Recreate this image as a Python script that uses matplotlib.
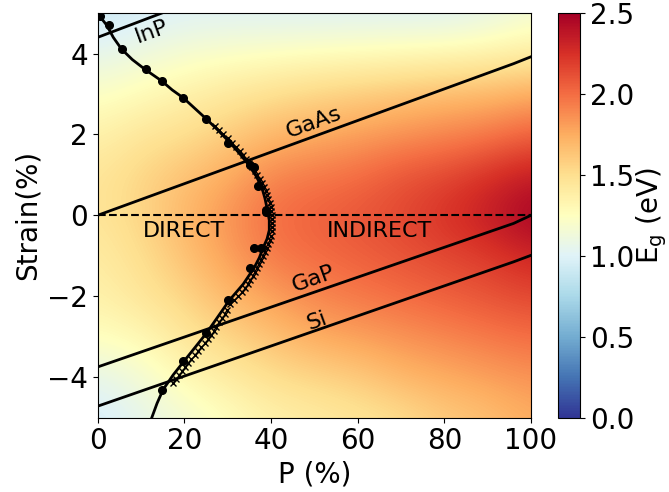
import numpy as np
import matplotlib
matplotlib.use("Agg")
import matplotlib.pyplot as plt

# Band gap map Eg(P, strain), sampled every 10 % P and 1 % strain
p_grid = [0, 10, 20, 30, 40, 50, 60, 70, 80, 90, 100]
strain_grid = [-5, -4, -3, -2, -1, 0, 1, 2, 3, 4, 5]
eg_grid = [
    [0.95, 1.05, 1.15, 1.25, 1.35, 1.40, 1.45, 1.50, 1.60, 1.65, 1.75],  # -5
    [1.05, 1.15, 1.30, 1.40, 1.50, 1.55, 1.60, 1.70, 1.75, 1.80, 1.85],  # -4
    [1.25, 1.30, 1.45, 1.55, 1.65, 1.75, 1.80, 1.85, 1.90, 1.95, 2.00],  # -3
    [1.35, 1.45, 1.55, 1.70, 1.80, 1.90, 1.95, 2.00, 2.05, 2.10, 2.15],  # -2
    [1.40, 1.50, 1.65, 1.80, 1.95, 2.00, 2.05, 2.10, 2.15, 2.20, 2.30],  # -1
    [1.45, 1.55, 1.70, 1.85, 2.00, 2.05, 2.10, 2.15, 2.25, 2.35, 2.50],  # 0
    [1.45, 1.55, 1.65, 1.75, 1.90, 1.95, 2.00, 2.10, 2.15, 2.25, 2.35],  # 1
    [1.35, 1.45, 1.50, 1.60, 1.70, 1.75, 1.80, 1.85, 1.90, 1.95, 2.05],  # 2
    [1.22, 1.28, 1.36, 1.43, 1.50, 1.56, 1.60, 1.64, 1.68, 1.70, 1.76],  # 3
    [1.05, 1.12, 1.18, 1.22, 1.24, 1.26, 1.28, 1.30, 1.32, 1.35, 1.40],  # 4
    [0.90, 0.95, 1.00, 1.00, 1.00, 1.00, 1.00, 1.00, 1.00, 1.05, 1.15],  # 5
]

# direct/indirect boundary (fitted curve)
boundary_strain = [4.99, 4.85, 4.70, 4.40, 4.11, 3.85, 3.61, 3.32, 3.10, 2.90, 2.39,
                   2.10, 1.80, 1.52, 1.24, 0.98, 0.72, 0.42, 0.12, -0.12, -0.37,
                   -0.58, -0.80, -1.05, -1.30, -1.70, -2.10, -2.50, -2.90, -3.25,
                   -3.61, -3.95, -4.31, -4.65, -5.0]
boundary_p = [0.15, 1.0, 2.1, 3.6, 5.5, 8.0, 10.9, 14.8, 17.2, 19.8, 25.0,
              27.8, 30.5, 32.8, 34.9, 36.5, 37.8, 38.6, 39.2, 39.6, 39.6,
              39.1, 38.2, 37.3, 36.1, 33.6, 30.4, 27.8, 25.2, 22.6,
              19.9, 17.4, 15.1, 13.7, 12.5]

# computed transition points
dots_p = [0.5, 2.6, 5.5, 11.1, 14.8, 19.8, 24.9, 30.0, 35.1, 36.1, 37.1, 38.8,
          38.8, 36.1, 37.8, 35.1, 30.1, 25.0, 19.8, 14.8]
dots_strain = [4.93, 4.70, 4.11, 3.61, 3.32, 2.90, 2.39, 1.80, 1.24, 1.20, 0.72, 0.12,
               0.08, -0.80, -0.80, -1.30, -2.10, -2.90, -3.61, -4.31]

# finer sampled points near the boundary
cross_strain = [2.2, 2.1, 2.0, 1.9, 1.8, 1.7, 1.6, 1.5, 1.4, 1.3, 1.2, 1.1, 1.0, 0.9,
                0.8, 0.7, 0.6, 0.5, 0.4, 0.3, 0.2, 0.1, 0.0, -0.1, -0.2, -0.3, -0.4,
                -0.5, -0.6, -0.7, -0.8, -0.9, -1.0, -1.1, -1.2, -1.3, -1.4, -1.5,
                -1.6, -1.7, -1.8, -1.9, -2.0, -2.1, -2.2, -2.35, -2.45, -2.55, -2.65,
                -2.75, -2.85, -2.95, -3.05, -3.15, -3.25, -3.35, -3.45, -3.55, -3.65,
                -3.75, -3.85, -3.95, -4.05, -4.15]
cross_p = [27.0, 28.0, 29.0, 30.0, 31.0, 31.9, 32.8, 33.5, 34.2, 34.9, 35.6, 36.2,
           36.7, 37.4, 38.0, 38.4, 38.8, 39.1, 39.4, 39.7, 39.9, 40.1, 40.2, 40.3,
           40.3, 40.3, 40.2, 40.0, 39.8, 39.4, 39.0, 38.6, 38.2, 37.8, 37.3, 36.8,
           36.3, 35.8, 35.2, 34.6, 33.9, 33.2, 32.4, 31.5, 30.6, 29.9, 29.3, 28.6,
           28.0, 27.4, 26.8, 26.1, 25.4, 24.7, 23.9, 23.1, 22.4, 21.6, 20.9,
           20.1, 19.4, 18.7, 18.0, 17.4]

# lattice matched lines for each substrate
inp_p, inp_strain = [0, 14.8], [4.40, 5.0]
gaas_p, gaas_strain = [0, 96, 100], [0.0, 3.75, 3.92]
gap_p, gap_strain = [0, 96, 100], [-3.75, -0.20, 0.0]
si_p, si_strain = [0, 96, 100], [-4.72, -1.15, -0.99]

plt.rcParams['font.size'] = 20

fig = plt.figure(figsize=(6.69, 4.92), dpi=100)
ax = fig.add_axes([0.146, 0.1514, 0.6477, 0.822])
cax = fig.add_axes([0.834, 0.1514, 0.033, 0.822])

im = ax.imshow(np.array(eg_grid), origin='lower', aspect='auto', cmap='RdYlBu_r',
               vmin=0, vmax=2.5, interpolation='bicubic',
               extent=[p_grid[0] - 5, p_grid[-1] + 5, strain_grid[0] - 0.5, strain_grid[-1] + 0.5])

ax.plot(inp_p, inp_strain, color='black', lw=2)
ax.plot(gaas_p, gaas_strain, color='black', lw=2)
ax.plot(gap_p, gap_strain, color='black', lw=2)
ax.plot(si_p, si_strain, color='black', lw=2)
ax.plot([0, 100], [0, 0], color='black', lw=1.5, ls='--')

ax.plot(boundary_p, boundary_strain, color='black', lw=2)
ax.plot(cross_p, cross_strain, ls='none', marker='x', ms=4, mew=1.0, color='black')
ax.plot(dots_p, dots_strain, ls='none', marker='o', ms=5.5, color='black')

ax.text(12.6, 4.54, 'InP', fontsize=16, rotation=20, ha='center', va='center')
ax.text(49.9, 2.30, 'GaAs', fontsize=16, rotation=20, ha='center', va='center')
ax.text(49.7, -1.58, 'GaP', fontsize=16, rotation=20, ha='center', va='center')
ax.text(50.6, -2.60, 'Si', fontsize=16, rotation=20, ha='center', va='center')
ax.text(20.0, -0.40, 'DIRECT', fontsize=16, ha='center', va='center')
ax.text(65.0, -0.40, 'INDIRECT', fontsize=16, ha='center', va='center')

ax.set_xlim(0, 100)
ax.set_ylim(-5, 5)
ax.set_xticks([0, 20, 40, 60, 80, 100])
ax.set_yticks([-4, -2, 0, 2, 4])
ax.set_xlabel('P (%)')
ax.set_ylabel('Strain(%)')

cb = fig.colorbar(im, cax=cax, ticks=[0, 0.5, 1.0, 1.5, 2.0, 2.5])
cb.set_label(r'E$_\mathrm{g}$ (eV)', labelpad=0)

fig.savefig('out.png', dpi=100)
